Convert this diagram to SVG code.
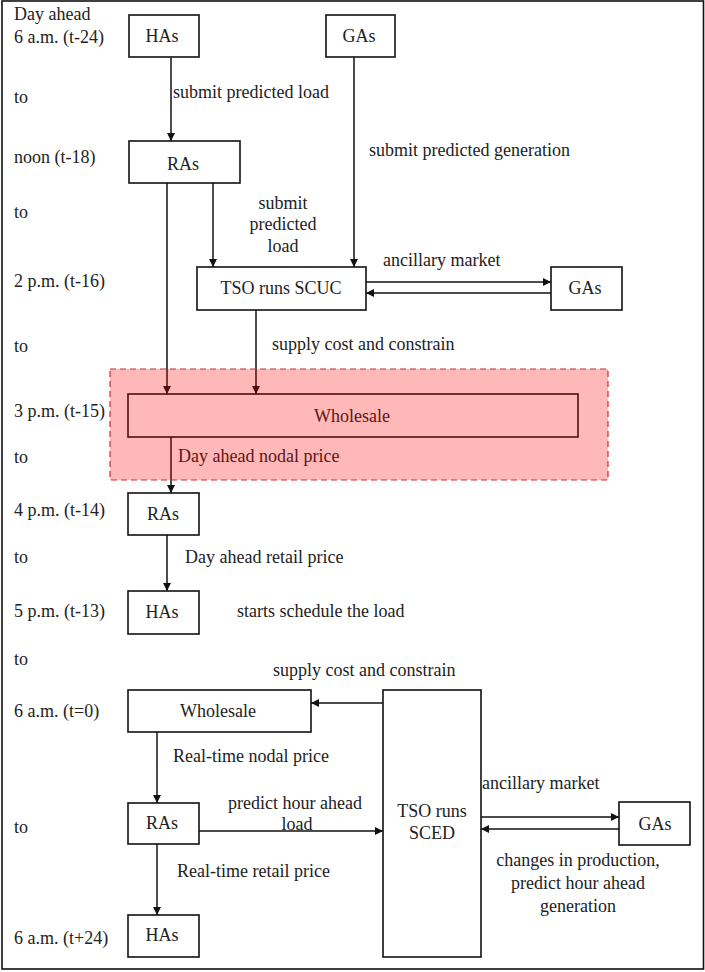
<svg xmlns="http://www.w3.org/2000/svg" width="705" height="972" viewBox="0 0 705 972">
<defs>
<style>
text{font-family:"Liberation Serif","Times New Roman",serif;font-size:18px;fill:#222}
.c{text-anchor:middle}
.box{fill:#fff;stroke:#111;stroke-width:1.6}
.ln{stroke:#111;stroke-width:1.5;fill:none;marker-end:url(#ah)}
</style>
<marker id="ah" viewBox="0 0 10 10" refX="10" refY="5" markerWidth="8" markerHeight="8" markerUnits="userSpaceOnUse" orient="auto">
<path d="M0,0 L10,5 L0,10 z" fill="#111"/>
</marker>
</defs>
<rect x="0" y="0" width="705" height="972" fill="#fff"/>
<rect x="2" y="1" width="701.5" height="968" fill="none" stroke="#111" stroke-width="1.6"/>

<g id="time-labels">
<text x="14" y="20">Day ahead</text>
<text x="14" y="43">6 a.m. (t-24)</text>
<text x="14" y="103">to</text>
<text x="14" y="163">noon (t-18)</text>
<text x="14" y="218">to</text>
<text x="14" y="287">2 p.m. (t-16)</text>
<text x="14" y="352">to</text>
<text x="14" y="417">3 p.m. (t-15)</text>
<text x="14" y="463">to</text>
<text x="14" y="516">4 p.m. (t-14)</text>
<text x="14" y="563">to</text>
<text x="14" y="617">5 p.m. (t-13)</text>
<text x="14" y="665">to</text>
<text x="14" y="717">6 a.m. (t=0)</text>
<text x="14" y="833">to</text>
<text x="14" y="944">6 a.m. (t+24)</text>
</g>

<g id="connectors">
<line class="ln" x1="171" y1="57" x2="171" y2="141"/>
<line class="ln" x1="354" y1="57" x2="354" y2="267"/>
<line class="ln" x1="213" y1="183" x2="213" y2="267"/>
<line class="ln" x1="167" y1="183" x2="167" y2="394"/>
<line class="ln" x1="256" y1="310" x2="256" y2="394"/>
<line class="ln" x1="366" y1="282" x2="551" y2="282"/>
<line class="ln" x1="551" y1="293" x2="366" y2="293"/>
<line class="ln" x1="171" y1="437" x2="171" y2="493"/>
<line class="ln" x1="167" y1="535" x2="167" y2="591"/>
<line class="ln" x1="383" y1="703" x2="311" y2="703"/>
<line class="ln" x1="157" y1="732" x2="157" y2="803"/>
<line class="ln" x1="199" y1="831" x2="383" y2="831"/>
<line class="ln" x1="157" y1="844" x2="157" y2="915"/>
<line class="ln" x1="481" y1="817" x2="619" y2="817"/>
<line class="ln" x1="619" y1="829" x2="481" y2="829"/>
</g>

<g id="connector-labels">
<text x="173" y="98">submit predicted load</text>
<text x="369" y="156">submit predicted generation</text>
<text class="c" x="283" y="209">submit</text>
<text class="c" x="283" y="230">predicted</text>
<text class="c" x="283" y="252">load</text>
<text x="383" y="266">ancillary  market</text>
<text x="272" y="350">supply cost and constrain</text>
<text x="178" y="462">Day ahead nodal price</text>
<text x="185" y="563">Day ahead retail price</text>
<text x="237" y="617">starts schedule the load</text>
<text x="273" y="676">supply cost and constrain</text>
<text x="173" y="762">Real-time nodal price</text>
<text x="228" y="809">predict hour ahead</text>
<text class="c" x="297" y="830">load</text>
<text x="177" y="877">Real-time retail price</text>
<text x="482" y="789">ancillary  market</text>
<text class="c" x="578" y="866">changes in production,</text>
<text class="c" x="578" y="889">predict hour ahead</text>
<text class="c" x="578" y="912">generation</text>
</g>

<g id="node-has-top"><rect class="box" x="129" y="15" width="70" height="42"/><text class="c" x="162" y="42">HAs</text></g>
<g id="node-gas-top"><rect class="box" x="326" y="15" width="69" height="42"/><text class="c" x="359" y="42">GAs</text></g>
<g id="node-ras-noon"><rect class="box" x="129" y="141" width="111" height="42"/><text class="c" x="183" y="170">RAs</text></g>
<g id="node-scuc"><rect class="box" x="197" y="267" width="169" height="43"/><text class="c" x="281" y="294">TSO runs SCUC</text></g>
<g id="node-gas-scuc"><rect class="box" x="551" y="267" width="71" height="43"/><text class="c" x="585" y="294">GAs</text></g>
<g id="node-wholesale-da"><rect class="box" x="128" y="394" width="450" height="43"/><text class="c" x="352" y="422">Wholesale</text></g>
<g id="node-ras-4pm"><rect class="box" x="128" y="493" width="71" height="42"/><text class="c" x="163" y="520">RAs</text></g>
<g id="node-has-5pm"><rect class="box" x="128" y="591" width="71" height="43"/><text class="c" x="162" y="618">HAs</text></g>
<g id="node-wholesale-rt"><rect class="box" x="128" y="690" width="183" height="42"/><text class="c" x="218" y="717">Wholesale</text></g>
<g id="node-ras-rt"><rect class="box" x="128" y="803" width="71" height="41"/><text class="c" x="162" y="829">RAs</text></g>
<g id="node-has-rt"><rect class="box" x="128" y="915" width="71" height="42"/><text class="c" x="162" y="941">HAs</text></g>
<g id="node-sced"><rect class="box" x="383" y="690" width="98" height="267"/><text class="c" x="432" y="817">TSO runs</text><text class="c" x="432" y="839">SCED</text></g>
<g id="node-gas-rt"><rect class="box" x="619" y="802" width="71" height="43"/><text class="c" x="655" y="830">GAs</text></g>

<g id="highlight">
<rect x="110" y="369" width="498" height="111" fill="#ff0000" fill-opacity="0.28" stroke="#cc2a30" stroke-width="1.2" stroke-dasharray="6 4"/>
</g>
</svg>
